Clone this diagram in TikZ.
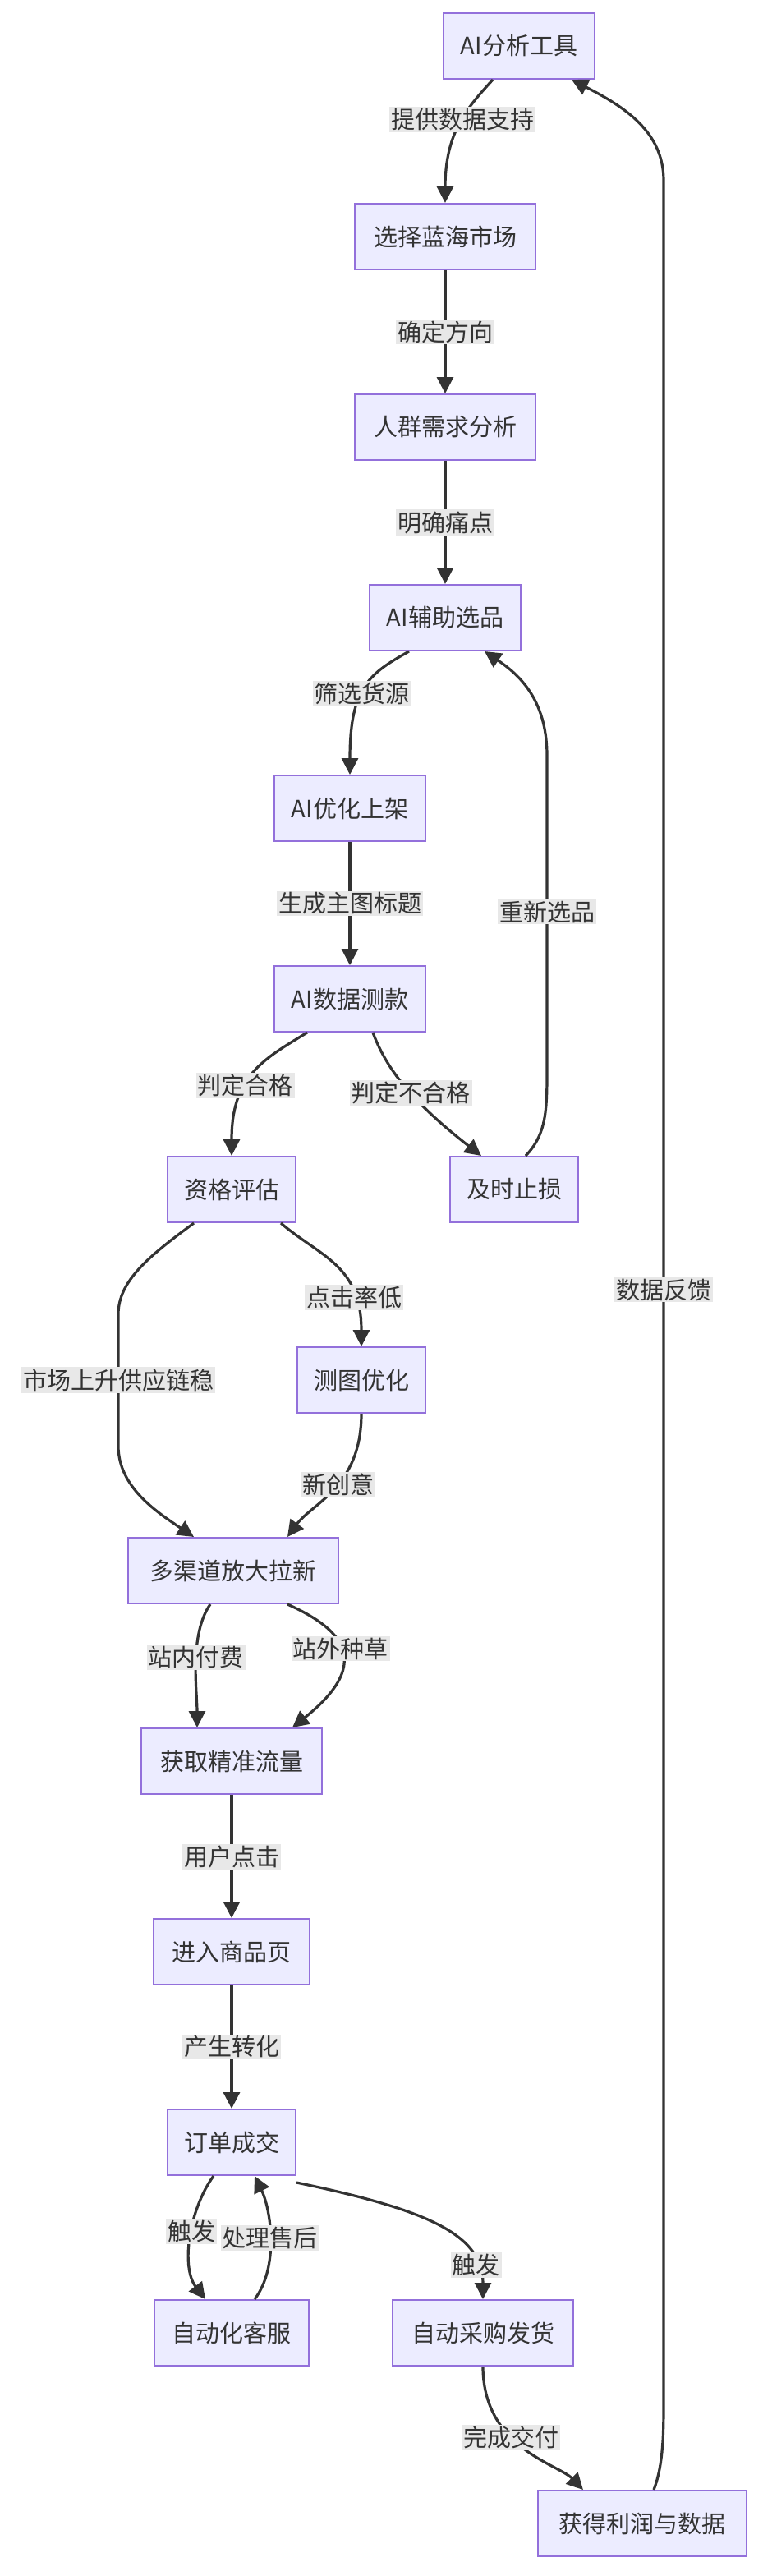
\documentclass[tikz,border=0pt]{standalone}
\usepackage{fontspec}
\setmainfont{Noto Sans CJK SC}
\usetikzlibrary{arrows.meta}
\definecolor{nfill}{HTML}{ECECFF}
\definecolor{nstroke}{HTML}{9370DB}
\definecolor{edge}{HTML}{333333}
\definecolor{labbg}{HTML}{E8E8E8}
\begin{document}
\begin{tikzpicture}[x=1pt,y=-1pt,
  box/.style={draw=nstroke,fill=nfill,line width=1pt,minimum height=40pt,inner xsep=9pt,font=\fontsize{14.5}{16}\selectfont,text=edge},
  lab/.style={fill=labbg,inner sep=1pt,font=\fontsize{14.5}{16}\selectfont,text=edge},
  ar/.style={draw=edge,line width=1.6pt,-{Triangle[length=10pt,width=10pt]}}]
\useasboundingbox (0,0) rectangle (464,1568);
\node[box,minimum width=92pt] (A) at (316,28) {AI分析工具};
\node[box,minimum width=110pt] (B) at (271,144) {选择蓝海市场};
\node[box,minimum width=110pt] (C) at (271,260) {人群需求分析};
\node[box,minimum width=92pt] (D) at (271,376) {AI辅助选品};
\node[box,minimum width=92pt] (E) at (213,492) {AI优化上架};
\node[box,minimum width=92pt] (F) at (213,608) {AI数据测款};
\node[box,minimum width=78pt] (G) at (141,724) {资格评估};
\node[box,minimum width=78pt] (H) at (313,724) {及时止损};
\node[box,minimum width=78pt] (I) at (220,840) {测图优化};
\node[box,minimum width=128pt] (J) at (142,956) {多渠道放大拉新};
\node[box,minimum width=110pt] (K) at (141,1072) {获取精准流量};
\node[box,minimum width=95pt] (L) at (141,1188) {进入商品页};
\node[box,minimum width=78pt] (M) at (141,1304) {订单成交};
\node[box,minimum width=94pt] (N) at (141,1420) {自动化客服};
\node[box,minimum width=110pt] (O) at (294,1420) {自动采购发货};
\node[box,minimum width=127pt] (P) at (391,1536) {获得利润与数据};

\draw[ar] ([xshift=-16pt]A.south) .. controls (285,65) and (271,80) .. node[lab,pos=0.45]{提供数据支持} (B.north);
\draw[ar] (B) -- node[lab]{确定方向} (C);
\draw[ar] (C) -- node[lab]{明确痛点} (D);
\draw[ar] ([xshift=-22pt]D.south) .. controls (225,410) and (213,418) .. node[lab,pos=0.55]{筛选货源} (E.north);
\draw[ar] (E) -- node[lab]{生成主图标题} (F);
\draw[ar] ([xshift=-26pt]F.south) .. controls (160,645) and (141,655) .. node[lab,pos=0.6]{判定合格} (G.north);
\draw[ar] ([xshift=14pt]F.south) .. controls (235,650) and (250,670) .. node[lab,pos=0.55]{判定不合格} ([xshift=-20pt]H.north);
\draw[ar] ([xshift=7pt]H.north) .. controls (333,690) and (333,675) .. (333,650) -- node[lab]{重新选品} (333,460) .. controls (333,425) and (315,410) .. ([xshift=24pt]D.south);
\draw[ar] ([xshift=-23pt]G.south) .. controls (90,765) and (72,780) .. (72,800) -- node[lab]{市场上升供应链稳} (72,880) .. controls (72,905) and (95,920) .. ([xshift=-24pt]J.north);
\draw[ar] ([xshift=30pt]G.south) .. controls (195,765) and (220,770) .. node[lab,pos=0.75]{点击率低} (I.north);
\draw[ar] (I.south) .. controls (220,905) and (190,915) .. node[lab,pos=0.45]{新创意} ([xshift=33pt]J.north);
\draw[ar] ([xshift=-14pt]J.south) .. controls (115,995) and (120,1030) .. node[lab,pos=0.45]{站内付费} ([xshift=-21pt]K.north);
\draw[ar] ([xshift=33pt]J.south) .. controls (205,990) and (230,1010) .. node[lab,pos=0.5]{站外种草} ([xshift=37pt]K.north);
\draw[ar] (K) -- node[lab]{用户点击} (L);
\draw[ar] (L) -- node[lab]{产生转化} (M);
\draw[ar] ([xshift=-11pt]M.south) .. controls (115,1345) and (110,1380) .. node[lab,pos=0.45]{触发} ([xshift=-16pt]N.north);
\draw[ar] ([xshift=14pt]N.north) .. controls (170,1380) and (165,1345) .. node[lab,pos=0.5]{处理售后} ([xshift=14pt]M.south);
\draw[ar] ([yshift=-4pt]M.south east) .. controls (260,1345) and (294,1360) .. node[lab,pos=0.8]{触发} (O.north);
\draw[ar] (O.south) .. controls (294,1490) and (340,1500) .. node[lab,pos=0.4]{完成交付} ([xshift=-36pt]P.north);
\draw[ar] ([xshift=7pt]P.north) .. controls (404,1500) and (404,1480) .. (404,1460) -- node[lab]{数据反馈} (404,110) .. controls (404,80) and (380,65) .. ([xshift=32pt]A.south);
\end{tikzpicture}
\end{document}
